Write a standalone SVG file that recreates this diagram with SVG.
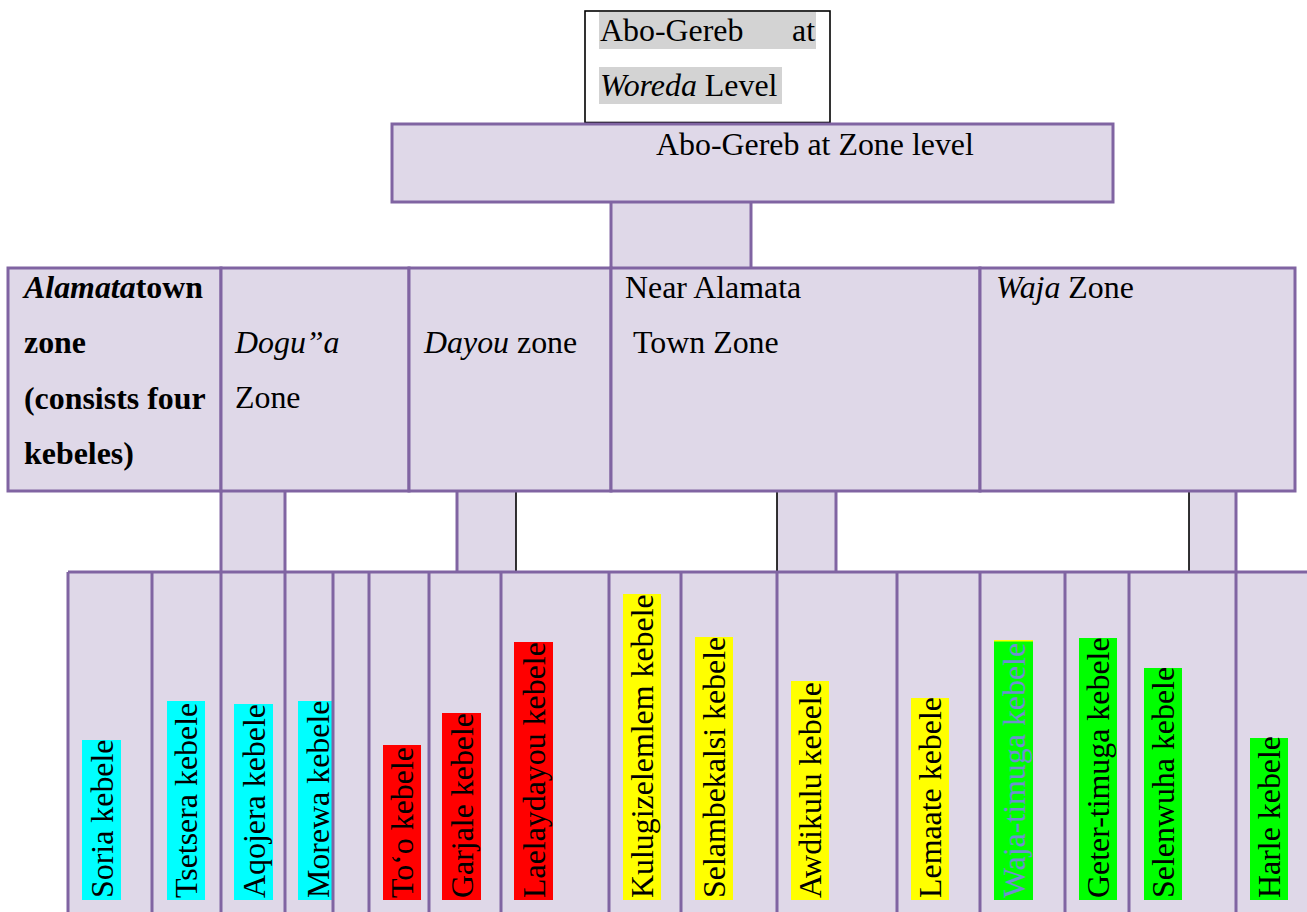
<svg xmlns="http://www.w3.org/2000/svg" width="1307" height="912" viewBox="0 0 1307 912">
<style>
text{font-family:"Liberation Serif","Times New Roman",serif;font-size:31.9px;fill:#000}
.cell{fill:#dfd8e8;stroke:#8064a2;stroke-width:3}
.pl{stroke:#8064a2;stroke-width:3;fill:none}
.bl{stroke:#000;stroke-width:1.6;fill:none}
.cf{fill:#dfd8e8}
.b{font-weight:bold}
.i{font-style:italic}
.cy{fill:#00ffff}.rd{fill:#ff0000}.ye{fill:#ffff00}.gr{fill:#00ff00}.gy{fill:#d3d3d3}
</style>
<rect width="1307" height="912" fill="#fff"/>

<g id="connectors">
  <rect class="cf" x="611" y="202" width="140" height="66"/>
  <line class="pl" x1="611" y1="202" x2="611" y2="268"/>
  <line class="pl" x1="751" y1="202" x2="751" y2="268"/>
  <rect class="cf" x="221" y="491" width="64" height="81"/>
  <line class="pl" x1="221" y1="491" x2="221" y2="572"/>
  <line class="pl" x1="285" y1="491" x2="285" y2="572"/>
  <rect class="cf" x="457" y="491" width="59" height="81"/>
  <line class="pl" x1="457" y1="491" x2="457" y2="572"/>
  <line class="bl" x1="516" y1="491" x2="516" y2="572"/>
  <rect class="cf" x="777" y="491" width="59" height="81"/>
  <line class="bl" x1="777" y1="491" x2="777" y2="572"/>
  <line class="pl" x1="836" y1="491" x2="836" y2="572"/>
  <rect class="cf" x="1189" y="491" width="47" height="81"/>
  <line class="bl" x1="1189" y1="491" x2="1189" y2="572"/>
  <line class="pl" x1="1236" y1="491" x2="1236" y2="572"/>
</g>

<g id="woreda">
  <rect x="585" y="11" width="245" height="111.5" fill="#fff" stroke="#000" stroke-width="1.6"/>
  <rect class="gy" x="599" y="12" width="217" height="37"/>
  <rect class="gy" x="599" y="67" width="183" height="37"/>
  <text x="600" y="41">Abo-Gereb</text>
  <text x="792" y="41">at</text>
  <text x="600" y="96"><tspan class="i">Woreda</tspan> Level</text>
</g>

<g id="zone-level">
  <rect class="cell" x="392" y="124" width="721" height="78"/>
  <text x="656" y="155">Abo-Gereb at Zone level</text>
</g>

<g id="zone-alamata">
  <rect class="cell" x="8" y="268" width="213" height="223"/>
  <text class="b" x="24" y="298"><tspan class="i">Alamata</tspan>town</text>
  <text class="b" x="24" y="353">zone</text>
  <text class="b" x="24" y="409">(consists four</text>
  <text class="b" x="24" y="464">kebeles)</text>
</g>
<g id="zone-dogua">
  <rect class="cell" x="221" y="268" width="188" height="223"/>
  <text class="i" x="235" y="353">Dogu”a</text>
  <text x="235" y="408">Zone</text>
</g>
<g id="zone-dayou">
  <rect class="cell" x="409" y="268" width="202" height="223"/>
  <text x="424" y="353"><tspan class="i">Dayou</tspan> zone</text>
</g>
<g id="zone-near">
  <rect class="cell" x="611" y="268" width="369" height="223"/>
  <text x="625" y="298">Near Alamata</text>
  <text x="633" y="353">Town Zone</text>
</g>
<g id="zone-waja">
  <rect class="cell" x="980" y="268" width="315" height="223"/>
  <text x="996" y="298"><tspan class="i">Waja</tspan> Zone</text>
</g>

<g id="kebele-row">
  <rect class="cf" x="68" y="572" width="1245" height="345"/>
</g>

<g id="kebele-soria"><rect class="cy" x="82" y="740" width="39" height="160"/><text transform="translate(113 898) rotate(-90)">Soria kebele</text></g>
<g id="kebele-tsetsera"><rect class="cy" x="167" y="701" width="38" height="199"/><text transform="translate(197 898) rotate(-90)">Tsetsera kebele</text></g>
<g id="kebele-aqojera"><rect class="cy" x="234" y="704" width="39" height="196"/><text transform="translate(265 898) rotate(-90)">Aqojera kebele</text></g>
<g id="kebele-morewa"><rect class="cy" x="298" y="701" width="35" height="199"/><text transform="translate(329 898) rotate(-90)">Morewa kebele</text></g>
<g id="kebele-too"><rect class="rd" x="383" y="745" width="38" height="155"/><text transform="translate(413 898) rotate(-90)">To‘o kebele</text></g>
<g id="kebele-garjale"><rect class="rd" x="442" y="713" width="39" height="187"/><text transform="translate(473 898) rotate(-90)">Garjale kebele</text></g>
<g id="kebele-laelaydayou"><rect class="rd" x="514" y="642" width="39" height="258"/><text transform="translate(545 898) rotate(-90)">Laelaydayou kebele</text></g>
<g id="kebele-kulugizelemlem"><rect class="ye" x="623" y="594" width="38" height="306"/><text transform="translate(653 898) rotate(-90)">Kulugizelemlem kebele</text></g>
<g id="kebele-selambekalsi"><rect class="ye" x="695" y="637" width="38" height="263"/><text transform="translate(725 898) rotate(-90)">Selambekalsi kebele</text></g>
<g id="kebele-awdikulu"><rect class="ye" x="791" y="681" width="38" height="219"/><text transform="translate(821 898) rotate(-90)">Awdikulu kebele</text></g>
<g id="kebele-lemaate"><rect class="ye" x="911" y="698" width="38" height="202"/><text transform="translate(941 898) rotate(-90)">Lemaate kebele</text></g>
<g id="kebele-waja-timuga"><rect class="gr" x="994" y="641" width="39" height="259"/><rect class="ye" x="994" y="640" width="39" height="1.5"/><text transform="translate(1025 898) rotate(-90)" style="fill:#6f8fcf">Waja-timuga kebele</text></g>
<g id="kebele-geter-timuga"><rect class="gr" x="1079" y="638" width="38" height="262"/><text transform="translate(1109 898) rotate(-90)">Geter-timuga kebele</text></g>
<g id="kebele-selenwuha"><rect class="gr" x="1144" y="668" width="38" height="232"/><text transform="translate(1174 898) rotate(-90)">Selenwuha kebele</text></g>
<g id="kebele-harle"><rect class="gr" x="1250" y="738" width="38" height="162"/><text transform="translate(1280 898) rotate(-90)">Harle kebele</text></g>

<g id="kebele-grid">
  <line class="pl" x1="68" y1="572" x2="1307" y2="572"/>
  <path class="pl" d="M68 572V912M152 572V912M221 572V912M285 572V912M333 572V912M369 572V912M429 572V912M501 572V912M609 572V912M681 572V912M777 572V912M897 572V912M980 572V912M1065 572V912M1129 572V912M1236 572V912"/>
</g>
</svg>
